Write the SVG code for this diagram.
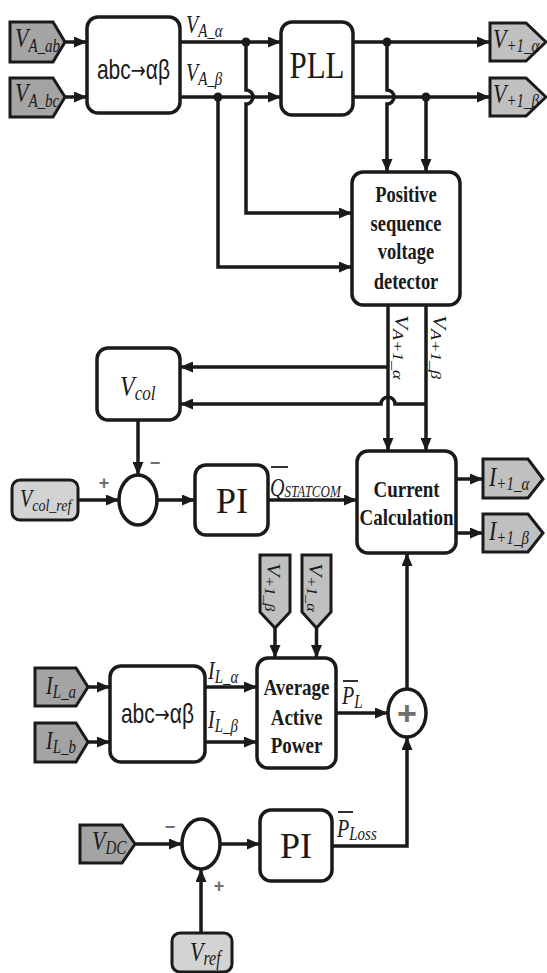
<svg xmlns="http://www.w3.org/2000/svg" width="547" height="973" viewBox="0 0 547 973">
<style>
.box{fill:#fff;stroke:#1a1a1a;stroke-width:3.5}
.tagD{fill:#a4a4a4;stroke:#1a1a1a;stroke-width:3}
.tagL{fill:#c0c0c0;stroke:#1a1a1a;stroke-width:3}
.tagR{fill:#d3d3d3;stroke:#1a1a1a;stroke-width:3}
.sum{fill:#fff;stroke:#1a1a1a;stroke-width:3.5}
.ln{fill:none;stroke:#1a1a1a;stroke-width:3.5}
.ar{marker-end:url(#ah)}
.it{font-family:"Liberation Serif",serif;font-style:italic;fill:#1a1a1a}
.bs{font-family:"Liberation Serif",serif;font-weight:bold;fill:#1a1a1a;text-anchor:middle}
.rs{font-family:"Liberation Serif",serif;fill:#1a1a1a;text-anchor:middle}
.sn{font-family:"Liberation Sans",sans-serif;fill:#1a1a1a;text-anchor:middle}
.arw{font-family:"DejaVu Sans",sans-serif}
.sg{font-family:"Liberation Sans",sans-serif;font-weight:bold;fill:#6e6e6e;text-anchor:middle}
.ov{stroke:#1a1a1a;stroke-width:1.8}
</style>
<defs>
<marker id="ah" markerUnits="userSpaceOnUse" markerWidth="13" markerHeight="11" refX="13" refY="5.5" orient="auto">
<path d="M0,0 L13,5.5 L0,11 z" fill="#1a1a1a"/>
</marker>
</defs>

<g id="connectors">
<path class="ln ar" d="M65,42 H87"/>
<path class="ln ar" d="M65,97 H87"/>
<path class="ln ar" d="M180,42 H281"/>
<path class="ln ar" d="M180,97 H281"/>
<path class="ln ar" d="M246,42 V90 A7,7 0 0 1 246,104 V213 H352"/>
<path class="ln ar" d="M218,97 V267 H352"/>
<path class="ln ar" d="M353,42 H490"/>
<path class="ln ar" d="M353,97 H490"/>
<path class="ln ar" d="M387,42 V90 A7,7 0 0 1 387,104 V172"/>
<path class="ln ar" d="M426,97 V172"/>
<path class="ln ar" d="M388,305 V451"/>
<path class="ln ar" d="M426,305 V451"/>
<path class="ln ar" d="M388,367 H180"/>
<path class="ln ar" d="M426,404 H395 A7,7 0 0 0 381,404 H180"/>
<path class="ln ar" d="M138,420 V475"/>
<path class="ln ar" d="M78,500 H119"/>
<path class="ln ar" d="M157,500 H195"/>
<path class="ln ar" d="M268,500 H357"/>
<path class="ln ar" d="M456,479 H483"/>
<path class="ln ar" d="M456,533 H483"/>
<path class="ln ar" d="M407,689 V553"/>
<path class="ln ar" d="M275,628 V658"/>
<path class="ln ar" d="M316.5,628 V658"/>
<path class="ln ar" d="M88,687 H110"/>
<path class="ln ar" d="M88,742 H110"/>
<path class="ln ar" d="M205,687 H257"/>
<path class="ln ar" d="M205,742 H257"/>
<path class="ln ar" d="M336,713 H388"/>
<path class="ln ar" d="M135,844 H182"/>
<path class="ln ar" d="M220,844 H260"/>
<path class="ln ar" d="M332,846 H407 V737"/>
<path class="ln ar" d="M201,933 V869"/>
<circle cx="246" cy="42" r="4.5" fill="#1a1a1a"/>
<circle cx="218" cy="97" r="4.5" fill="#1a1a1a"/>
<circle cx="387" cy="42" r="4.5" fill="#1a1a1a"/>
<circle cx="426" cy="97" r="4.5" fill="#1a1a1a"/>
<text class="it" transform="translate(186,33) scale(1,1.25)" font-size="20">V<tspan font-size="15" dy="3">A_α</tspan></text>
<text class="it" transform="translate(186,81) scale(1,1.25)" font-size="20">V<tspan font-size="15" dy="3">A_β</tspan></text>
<text class="it" transform="translate(395,315) rotate(90) scale(1.2,1)" font-size="19">V<tspan font-size="15" dy="1.5">A+1_α</tspan></text>
<text class="it" transform="translate(433,315) rotate(90) scale(1.2,1)" font-size="19">V<tspan font-size="15" dy="1.5">A+1_β</tspan></text>
<line class="ov" x1="271" y1="467" x2="288" y2="467"/>
<text class="it" transform="translate(270,496) scale(1,1.25)" font-size="20">Q<tspan font-size="13" dy="1">STATCOM</tspan></text>
<text class="it" transform="translate(208,679) scale(1,1.25)" font-size="20">I<tspan font-size="15" dy="3">L_α</tspan></text>
<text class="it" transform="translate(208,728) scale(1,1.25)" font-size="20">I<tspan font-size="15" dy="3">L_β</tspan></text>
<line class="ov" x1="343" y1="681" x2="358" y2="681"/>
<text class="it" transform="translate(342,704) scale(1,1.25)" font-size="20">P<tspan font-size="15" dy="3">L</tspan></text>
<line class="ov" x1="338" y1="812" x2="353" y2="812"/>
<text class="it" transform="translate(337,837) scale(1,1.25)" font-size="20">P<tspan font-size="15" dy="2">Loss</tspan></text>
<text class="sg" x="104" y="489" font-size="18">+</text>
<text class="sg" x="155" y="469" font-size="18">−</text>
<text class="sg" x="170" y="833" font-size="18">−</text>
<text class="sg" x="219" y="892" font-size="18">+</text>
</g>

<g id="in_VAab">
<polygon class="tagD" points="10,22 53,22 65,42 53,62 10,62"/>
<text class="it" transform="translate(15,47) scale(1,1.25)" font-size="22">V<tspan font-size="15" dy="4">A_ab</tspan></text>
</g>
<g id="in_VAbc">
<polygon class="tagD" points="10,78 53,78 65,97 53,117 10,117"/>
<text class="it" transform="translate(15,102) scale(1,1.25)" font-size="22">V<tspan font-size="15" dy="4">A_bc</tspan></text>
</g>
<g id="abc1">
<rect class="box" x="87" y="17" width="93" height="96" rx="11"/>
<text class="sn" transform="translate(133.5,79) scale(1,1.3)" font-size="21">abc<tspan class="arw" font-size="18" dy="-1">→</tspan><tspan dy="1">αβ</tspan></text>
</g>
<g id="pll">
<rect class="box" x="281" y="22" width="72" height="93" rx="11"/>
<text class="rs" transform="translate(317,78) scale(1,1.25)" font-size="31">PLL</text>
</g>
<g id="out_V1a">
<polygon class="tagL" points="490,23 526,23 546,42 526,61 490,61"/>
<text class="it" transform="translate(493,48) scale(1,1.2)" font-size="22">V<tspan font-size="15" dy="3">+1_α</tspan></text>
</g>
<g id="out_V1b">
<polygon class="tagL" points="490,78 526,78 546,97 526,116 490,116"/>
<text class="it" transform="translate(493,103) scale(1,1.2)" font-size="22">V<tspan font-size="15" dy="3">+1_β</tspan></text>
</g>
<g id="psvd">
<rect class="box" x="352" y="172" width="108" height="133" rx="11"/>
<text class="bs" transform="translate(406,202) scale(1,1.2)" font-size="18.5">Positive</text>
<text class="bs" transform="translate(406,231) scale(1,1.2)" font-size="18.5">sequence</text>
<text class="bs" transform="translate(406,259) scale(1,1.2)" font-size="18.5">voltage</text>
<text class="bs" transform="translate(406,289) scale(1,1.2)" font-size="18.5">detector</text>
</g>
<g id="vcol">
<rect class="box" x="97" y="348" width="83" height="72" rx="11"/>
<text class="it" transform="translate(120,396) scale(1,1.25)" font-size="24">V<tspan font-size="17" dy="3">col</tspan></text>
</g>
<g id="sum1">
<ellipse class="sum" cx="138" cy="500" rx="19" ry="25"/>
</g>
<g id="vcolref">
<rect class="tagR" x="12" y="480" width="66" height="40" rx="8"/>
<text class="it" transform="translate(20,507) scale(1,1.25)" font-size="20">V<tspan font-size="14" dy="3">col_ref</tspan></text>
</g>
<g id="pi1">
<rect class="box" x="195" y="465" width="73" height="70" rx="11"/>
<text class="rs" x="232" y="513" font-size="36">PI</text>
</g>
<g id="cc">
<rect class="box" x="357" y="451" width="99" height="102" rx="11"/>
<text class="bs" transform="translate(406.5,497) scale(1,1.25)" font-size="19">Current</text>
<text class="bs" transform="translate(406.5,525) scale(1,1.25)" font-size="19">Calculation</text>
</g>
<g id="out_I1a">
<polygon class="tagL" points="483,459 528,459 543,479 528,498 483,498"/>
<text class="it" transform="translate(489,486) scale(1,1.2)" font-size="22">I<tspan font-size="15" dy="3">+1_α</tspan></text>
</g>
<g id="out_I1b">
<polygon class="tagL" points="483,514 528,514 543,533 528,552 483,552"/>
<text class="it" transform="translate(489,540) scale(1,1.2)" font-size="22">I<tspan font-size="15" dy="3">+1_β</tspan></text>
</g>
<g id="in_V1b">
<polygon class="tagL" points="260,555 290,555 290,612 275,628 260,612"/>
<text class="it" transform="translate(267,563) rotate(90) scale(1.15,1)" font-size="19">V<tspan font-size="14" dy="1.5">+1_β</tspan></text>
</g>
<g id="in_V1a">
<polygon class="tagL" points="302,555 331,555 331,612 316.5,628 302,612"/>
<text class="it" transform="translate(308.5,563) rotate(90) scale(1.15,1)" font-size="19">V<tspan font-size="14" dy="1.5">+1_α</tspan></text>
</g>
<g id="in_ILa">
<polygon class="tagD" points="35,668 76,668 88,687 76,706 35,706"/>
<text class="it" transform="translate(46,694) scale(1,1.25)" font-size="20">I<tspan font-size="15" dy="3">L_a</tspan></text>
</g>
<g id="in_ILb">
<polygon class="tagD" points="35,723 76,723 88,742 76,762 35,762"/>
<text class="it" transform="translate(46,749) scale(1,1.25)" font-size="20">I<tspan font-size="15" dy="3">L_b</tspan></text>
</g>
<g id="abc2">
<rect class="box" x="110" y="666" width="95" height="96" rx="11"/>
<text class="sn" transform="translate(157.5,723) scale(1,1.3)" font-size="21">abc<tspan class="arw" font-size="18" dy="-1">→</tspan><tspan dy="1">αβ</tspan></text>
</g>
<g id="avg">
<rect class="box" x="257" y="658" width="79" height="110" rx="11"/>
<text class="bs" transform="translate(296.5,695) scale(1,1.2)" font-size="19">Average</text>
<text class="bs" transform="translate(296.5,725) scale(1,1.2)" font-size="19">Active</text>
<text class="bs" transform="translate(296.5,753) scale(1,1.2)" font-size="19">Power</text>
</g>
<g id="sum2">
<ellipse class="sum" cx="407" cy="713" rx="19" ry="24"/>
<text class="sg" x="407" y="725" font-size="34" fill="#808080">+</text>
</g>
<g id="in_VDC">
<polygon class="tagD" points="80,825 122,825 135,844 122,863 80,863"/>
<text class="it" transform="translate(92,850) scale(1,1.25)" font-size="22">V<tspan font-size="15" dy="3">DC</tspan></text>
</g>
<g id="sum3">
<ellipse class="sum" cx="201" cy="844" rx="19" ry="25"/>
</g>
<g id="pi2">
<rect class="box" x="260" y="810" width="72" height="71" rx="11"/>
<text class="rs" x="296" y="858" font-size="36">PI</text>
</g>
<g id="vref">
<rect class="tagR" x="172" y="933" width="60" height="39" rx="8"/>
<text class="it" transform="translate(190,961) scale(1,1.25)" font-size="22">V<tspan font-size="16" dy="3">ref</tspan></text>
</g>
</svg>
